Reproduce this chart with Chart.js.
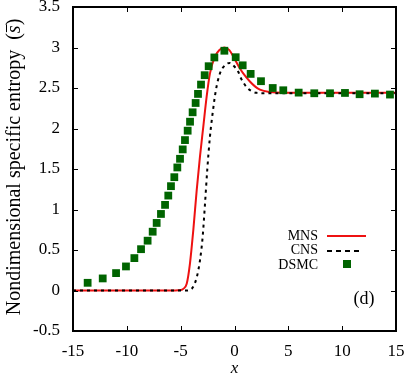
<!DOCTYPE html>
<html lang="en">
<head>
<meta charset="utf-8">
<style>
  html, body { margin: 0; padding: 0; background: #fff; }
  #wrap { width: 409px; height: 377px; }
</style>
</head>
<body>
<div id="wrap"><canvas id="myChart" width="409" height="377"></canvas></div>

<script src="https://cdn.jsdelivr.net/npm/chart.js"></script>
<script>
    // values
    var xTicks = [-15, -10, -5, 0, 5, 10, 15];
    var yTicks = [-0.5, 0, 0.5, 1, 1.5, 2, 2.5, 3, 3.5];

    var mnsX = [-15, -5.5, -5.0, -4.76, -4.44, -4.14, -3.83, -3.51, -3.21, -2.90, -2.59, -2.28, -1.81, -1.40, -0.95, -0.5, -0.12, 0.51, 0.81, 1.43, 1.9, 2.36, 3.29, 4.5, 6, 15];
    var mnsY = [0, 0, 0.005, 0.02, 0.083, 0.33, 0.74, 1.24, 1.65, 2.02, 2.39, 2.68, 2.89, 2.97, 3.0, 2.97, 2.89, 2.74, 2.68, 2.58, 2.52, 2.48, 2.45, 2.44, 2.44, 2.44];

    var cnsX = [-15, -4.5, -3.98, -3.75, -3.51, -3.21, -2.96, -2.74, -2.53, -2.28, -2.03, -1.72, -1.35, -0.89, -0.42, -0.12, 0.35, 0.6, 1.13, 1.6, 2.06, 3, 15];
    var cnsY = [0, 0, 0.02, 0.07, 0.16, 0.37, 0.66, 1.07, 1.49, 1.90, 2.19, 2.48, 2.68, 2.78, 2.81, 2.78, 2.70, 2.62, 2.51, 2.46, 2.44, 2.435, 2.435];

    var dsmcX = [-13.64, -12.24, -11.0, -10.08, -9.30, -8.68, -8.07, -7.60, -7.23, -6.83, -6.45, -6.15, -5.90, -5.59, -5.31, -5.06, -4.81, -4.60, -4.35, -4.13, -3.89, -3.61, -3.39, -3.11, -2.77, -2.40, -1.87, -0.94, 0.11, 0.76, 1.50, 2.46, 3.55, 4.53, 5.96, 7.41, 8.87, 10.26, 11.62, 13.04, 14.44];
    var dsmcY = [0.095, 0.149, 0.215, 0.297, 0.40, 0.51, 0.615, 0.726, 0.834, 0.945, 1.057, 1.172, 1.288, 1.399, 1.519, 1.626, 1.742, 1.857, 1.973, 2.084, 2.20, 2.315, 2.427, 2.542, 2.658, 2.769, 2.877, 2.96, 2.88, 2.78, 2.674, 2.584, 2.50, 2.472, 2.443, 2.435, 2.435, 2.439, 2.423, 2.431, 2.419];

    function pts(xs, ys) {
        var out = [];
        xs.forEach(function (x, i) { out.push({x: x, y: ys[i]}); });
        return out;
    }

    var serif = "'Liberation Serif', serif";
    var red = '#ee1111';
    var green = '#006400';

    var framePlugin = {
        id: 'frame',
        afterDraw: function (chart) {
            var ctx = chart.ctx;
            var a = chart.chartArea;
            var xs = chart.scales.x, ys = chart.scales.y;
            ctx.save();
            ctx.strokeStyle = '#000';
            ctx.lineWidth = 1;
            // inward ticks on all sides
            ctx.beginPath();
            xTicks.forEach(function (v) {
                var px = Math.round(xs.getPixelForValue(v)) + 0.5;
                ctx.moveTo(px, a.bottom); ctx.lineTo(px, a.bottom - 5);
                ctx.moveTo(px, a.top); ctx.lineTo(px, a.top + 5);
            });
            yTicks.forEach(function (v) {
                var py = Math.round(ys.getPixelForValue(v)) + 0.5;
                ctx.moveTo(a.left, py); ctx.lineTo(a.left + 5, py);
                ctx.moveTo(a.right, py); ctx.lineTo(a.right - 5, py);
            });
            ctx.stroke();
            ctx.lineWidth = 2;
            ctx.strokeRect(a.left, a.top, a.right - a.left, a.bottom - a.top);

            // legend
            ctx.fillStyle = '#000';
            ctx.font = '14px ' + serif;
            ctx.textAlign = 'right';
            ctx.textBaseline = 'middle';
            ctx.fillText('MNS', 318, 236);
            ctx.fillText('CNS', 318, 250);
            ctx.fillText('DSMC', 318, 265);
            ctx.strokeStyle = red;
            ctx.beginPath(); ctx.moveTo(327, 236); ctx.lineTo(366, 236); ctx.stroke();
            ctx.strokeStyle = '#000';
            ctx.setLineDash([5, 4]);
            ctx.beginPath(); ctx.moveTo(327, 251); ctx.lineTo(363, 251); ctx.stroke();
            ctx.setLineDash([]);
            ctx.fillStyle = green;
            ctx.fillRect(343, 260, 8, 8);

            // panel label
            ctx.fillStyle = '#000';
            ctx.font = '18px ' + serif;
            ctx.textAlign = 'center';
            ctx.fillText('(d)', 364, 299);

            // x axis title
            ctx.font = 'italic 17px ' + serif;
            ctx.fillText('x', (a.left + a.right) / 2, 369);

            // y axis title with overlined s
            ctx.translate(15, 167);
            ctx.rotate(-Math.PI / 2);
            ctx.textAlign = 'left';
            var t1 = 'Nondimensional specific entropy  (';
            ctx.font = '20px ' + serif;
            var w1 = ctx.measureText(t1).width;
            ctx.font = 'italic 20px ' + serif;
            var ws = ctx.measureText('s').width;
            ctx.font = '20px ' + serif;
            var wp = ctx.measureText(')').width;
            var x0 = -(w1 + ws + wp) / 2;
            ctx.fillText(t1, x0, 0);
            ctx.font = 'italic 20px ' + serif;
            ctx.fillText('s', x0 + w1, 0);
            ctx.font = '20px ' + serif;
            ctx.fillText(')', x0 + w1 + ws, 0);
            ctx.lineWidth = 1;
            ctx.beginPath();
            ctx.moveTo(x0 + w1 + 1, -8.5); ctx.lineTo(x0 + w1 + ws + 1, -8.5);
            ctx.stroke();
            ctx.restore();
        }
    };

    var myChart = new Chart(document.getElementById('myChart'), {
        type: 'scatter',
        data: {
            datasets: [{
                label: 'DSMC',
                data: pts(dsmcX, dsmcY),
                pointStyle: 'rect',
                pointRadius: 5.5,
                backgroundColor: green,
                borderWidth: 0,
                showLine: false
            }, {
                label: 'CNS',
                data: pts(cnsX, cnsY),
                showLine: true,
                borderColor: '#000',
                borderWidth: 2,
                borderDash: [3, 4],
                pointRadius: 0,
                cubicInterpolationMode: 'monotone'
            }, {
                label: 'MNS',
                data: pts(mnsX, mnsY),
                showLine: true,
                borderColor: red,
                borderWidth: 2,
                pointRadius: 0,
                cubicInterpolationMode: 'monotone'
            }]
        },
        options: {
            responsive: false,
            animation: false,
            layout: {padding: {left: 0, top: 7, right: 13, bottom: 0}},
            plugins: {legend: {display: false}, tooltip: {enabled: false}},
            scales: {
                x: {
                    type: 'linear',
                    min: -15, max: 15,
                    grid: {display: false, drawTicks: false},
                    border: {display: false},
                    afterBuildTicks: function (s) { s.ticks = xTicks.map(function (v) { return {value: v}; }); },
                    afterFit: function (s) { s.height = 46; s.paddingLeft = 0; s.paddingRight = 0; },
                    ticks: {color: '#000', font: {family: serif, size: 17}, padding: 10, maxRotation: 0,
                            callback: function (v) { return String(v); }}
                },
                y: {
                    type: 'linear',
                    min: -0.5, max: 3.5,
                    grid: {display: false, drawTicks: false},
                    border: {display: false},
                    afterBuildTicks: function (s) { s.ticks = yTicks.map(function (v) { return {value: v}; }); },
                    afterFit: function (s) { s.width = 73; s.paddingTop = 0; s.paddingBottom = 0; },
                    ticks: {color: '#000', font: {family: serif, size: 17}, padding: 13,
                            callback: function (v) { return String(v); }}
                }
            }
        },
        plugins: [framePlugin]
    });
</script>
</body>
</html>
